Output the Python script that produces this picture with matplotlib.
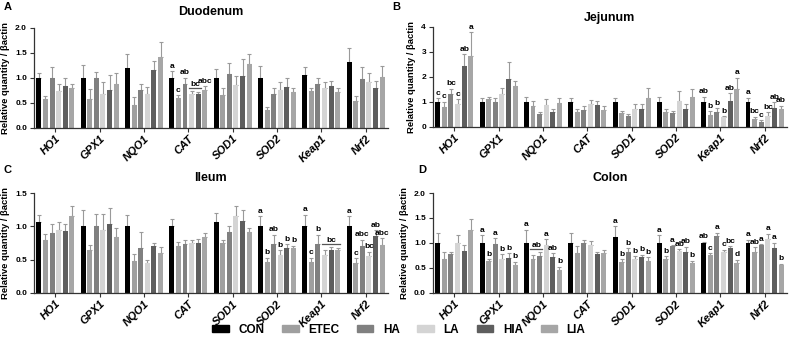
import matplotlib
matplotlib.use("Agg")
import matplotlib.pyplot as plt
import numpy as np

plt.rcParams["font.family"] = ["Liberation Sans", "DejaVu Sans"]

# datos
genes = ["HO1", "GPX1", "NQO1", "CAT", "SOD1", "SOD2", "Keap1", "Nrf2"]
grupos = ["CON", "ETEC", "HA", "LA", "HIA", "LIA"]
colores = ["#000000", "#9f9f9f", "#808080", "#d4d4d4", "#5e5e5e", "#a6a6a6"]

# medias (fila = gen, columna = grupo) y extremo superior de la barra de error
duo_media = [[1.00, 0.58, 1.00, 0.73, 0.84, 0.80],
             [1.00, 0.57, 1.00, 0.67, 0.75, 0.87],
             [1.19, 0.46, 0.76, 0.67, 1.15, 1.41],
             [1.00, 0.59, 0.87, 0.68, 0.68, 0.75],
             [1.00, 0.66, 1.07, 0.85, 1.03, 1.28],
             [1.00, 0.35, 0.68, 0.76, 0.82, 0.71],
             [1.06, 0.74, 0.87, 0.79, 0.83, 0.71],
             [1.32, 0.53, 0.97, 0.91, 0.79, 1.02]]
duo_sup = [[1.10, 0.64, 1.22, 0.87, 0.99, 0.87],
           [1.25, 0.78, 1.12, 0.91, 1.05, 1.09],
           [1.47, 0.61, 0.87, 0.82, 1.34, 1.71],
           [1.13, 0.65, 1.00, 0.73, 0.72, 0.83],
           [1.17, 0.79, 1.29, 1.03, 1.37, 1.47],
           [1.23, 0.41, 0.79, 0.92, 0.99, 0.79],
           [1.21, 0.79, 0.99, 0.91, 0.93, 0.79],
           [1.59, 0.63, 1.21, 1.10, 0.93, 1.23]]

jej_media = [[1.00, 0.80, 1.32, 0.93, 2.42, 2.82],
             [1.00, 1.10, 0.98, 1.30, 1.93, 1.62],
             [1.00, 0.83, 0.50, 0.88, 0.60, 0.95],
             [1.00, 0.58, 0.67, 0.90, 0.86, 0.66],
             [1.00, 0.55, 0.43, 0.70, 0.70, 1.17],
             [1.00, 0.60, 0.56, 1.05, 0.73, 1.20],
             [1.00, 0.48, 0.58, 0.38, 1.03, 1.53],
             [1.00, 0.33, 0.20, 0.43, 0.75, 0.70]]
jej_sup = [[1.15, 1.00, 1.53, 1.10, 2.90, 3.78],
           [1.15, 1.20, 1.15, 1.57, 2.60, 1.85],
           [1.20, 1.05, 0.58, 1.13, 0.73, 1.17],
           [1.17, 0.73, 0.82, 1.08, 1.05, 0.83],
           [1.17, 0.65, 0.52, 0.90, 0.93, 1.57],
           [1.20, 0.70, 0.65, 1.44, 0.93, 1.52],
           [1.20, 0.62, 0.75, 0.42, 1.35, 1.97],
           [1.17, 0.40, 0.27, 0.58, 0.98, 0.85]]

ile_media = [[1.07, 0.79, 0.90, 0.94, 0.93, 1.15],
             [1.00, 0.65, 1.00, 0.95, 1.03, 0.84],
             [1.00, 0.48, 0.68, 0.45, 0.70, 0.60],
             [1.00, 0.70, 0.73, 0.75, 0.75, 0.84],
             [1.06, 0.75, 0.92, 1.16, 1.08, 0.91],
             [1.00, 0.46, 0.73, 0.57, 0.67, 0.68],
             [1.00, 0.46, 0.73, 0.57, 0.65, 0.65],
             [1.00, 0.45, 0.71, 0.56, 0.85, 0.72]]
ile_sup = [[1.17, 0.89, 1.03, 1.06, 1.03, 1.31],
           [1.24, 0.72, 1.19, 1.18, 1.28, 0.97],
           [1.17, 0.58, 0.92, 0.49, 0.75, 0.69],
           [1.11, 0.77, 0.79, 0.79, 0.81, 0.90],
           [1.20, 0.80, 1.01, 1.31, 1.25, 0.97],
           [1.15, 0.53, 0.87, 0.64, 0.73, 0.71],
           [1.17, 0.53, 0.87, 0.64, 0.69, 0.68],
           [1.15, 0.52, 0.80, 0.62, 0.94, 0.82]]

col_media = [[1.00, 0.67, 0.78, 1.00, 0.84, 1.26],
             [1.00, 0.64, 0.97, 0.68, 0.70, 0.56],
             [1.00, 0.68, 0.74, 0.96, 0.71, 0.46],
             [1.00, 0.79, 1.00, 0.95, 0.77, 0.79],
             [1.11, 0.61, 0.81, 0.68, 0.72, 0.63],
             [1.00, 0.68, 0.93, 0.83, 0.82, 0.60],
             [1.00, 0.76, 1.13, 0.81, 0.89, 0.60],
             [1.00, 0.81, 0.95, 1.07, 0.90, 0.55]]
col_sup = [[1.19, 0.81, 0.81, 1.16, 0.96, 1.48],
           [1.15, 0.67, 1.09, 0.77, 0.79, 0.62],
           [1.26, 0.76, 0.81, 1.07, 0.79, 0.52],
           [1.20, 0.94, 1.06, 1.04, 0.81, 0.86],
           [1.33, 0.67, 0.89, 0.73, 0.76, 0.71],
           [1.15, 0.73, 0.95, 0.87, 0.92, 0.64],
           [1.02, 0.79, 1.20, 0.86, 0.93, 0.66],
           [1.06, 0.91, 0.97, 1.18, 1.00, 0.58]]

# letras de significancia {gen: [letras por grupo]}
duo_letras = {"CAT": ["a", "c", "ab", "", "", "abc"]}
jej_letras = {"HO1": ["c", "c", "bc", "c", "ab", "a"],
              "Keap1": ["ab", "b", "b", "b", "ab", "a"],
              "Nrf2": ["a", "bc", "c", "bc", "ab", "ab"]}
ile_letras = {"SOD2": ["a", "b", "ab", "b", "b", "b"],
              "Keap1": ["a", "c", "b", "", "", ""],
              "Nrf2": ["a", "c", "abc", "bc", "ab", "abc"]}
col_letras = {"GPX1": ["a", "b", "a", "b", "b", "b"],
              "NQO1": ["a", "", "", "a", "ab", "b"],
              "SOD1": ["a", "b", "b", "b", "b", "b"],
              "SOD2": ["a", "b", "a", "ab", "ab", "b"],
              "Keap1": ["ab", "c", "a", "c", "bc", "d"],
              "Nrf2": ["a", "ab", "a", "a", "a", "b"]}
# letras subrayadas sobre varios grupos: (gen, primer grupo, ultimo grupo, letra)
duo_linea = [("CAT", 3, 4, "bc")]
jej_linea = []
ile_linea = [("Keap1", 3, 5, "bc")]
col_linea = [("NQO1", 1, 2, "ab")]

paso = 6.7
ancho = 0.75

fig = plt.figure(figsize=(7.9, 3.41), dpi=100)

def panel(pos, media, sup, letras, lineas, titulo, pad_tit, ymax, ypaso):
    ax = fig.add_axes(pos)
    media = np.array(media)
    sup = np.array(sup)
    rango = ymax * 0.015
    for j in range(6):
        x = np.arange(8) * paso + j
        ax.bar(x, media[:, j], width=ancho, color=colores[j], zorder=2)
        ax.errorbar(x, media[:, j], yerr=[np.zeros(8), sup[:, j] - media[:, j]],
                    fmt="none", ecolor="#9a9a9a", elinewidth=0.8, capsize=1.3,
                    capthick=0.8, zorder=1)
    for gen, lets in letras.items():
        g = genes.index(gen)
        for j, t in enumerate(lets):
            if t:
                ax.text(g * paso + j, sup[g, j] + rango, t, ha="center", va="bottom",
                        fontsize=6, fontweight="bold")
    for gen, j0, j1, t in lineas:
        g = genes.index(gen)
        y = sup[g, j0:j1 + 1].max() + rango * 2
        ax.plot([g * paso + j0 - 0.4, g * paso + j1 + 0.4], [y, y], color="#555555", lw=0.9)
        ax.text(g * paso + (j0 + j1) / 2, y, t, ha="center", va="bottom",
                fontsize=6, fontweight="bold")
    ax.set_xlim(-0.73, 7 * paso + 5 + 0.87)
    ax.set_ylim(0, ymax)
    ax.set_yticks(np.arange(0, ymax + 0.001, ypaso))
    if ypaso < 1:
        ax.set_yticklabels(["%.1f" % v for v in np.arange(0, ymax + 0.001, ypaso)])
    ax.set_xticks(np.arange(8) * paso + 2.5)
    ax.set_xticklabels(genes, rotation=45, ha="right", rotation_mode="anchor",
                       fontsize=8, fontweight="bold", fontstyle="italic")
    for s in ["top", "right"]:
        ax.spines[s].set_visible(False)
    for s in ["left", "bottom"]:
        ax.spines[s].set_color("#333333")
        ax.spines[s].set_linewidth(0.9)
    ax.tick_params(axis="y", labelsize=6, length=3, color="#333333", pad=2)
    ax.tick_params(axis="x", length=3, color="#333333", pad=1)
    for lab in ax.get_yticklabels():
        lab.set_fontweight("bold")
    ax.set_ylabel("Relative quantity / βactin", fontsize=6.8, fontweight="bold", labelpad=4)
    ax.set_title(titulo, fontsize=9, fontweight="bold", pad=pad_tit)
    return ax

panel([0.043, 0.625, 0.448, 0.293], duo_media, duo_sup, duo_letras, duo_linea,
      "Duodenum", 9, 2.0, 0.5)
panel([0.548, 0.628, 0.448, 0.293], jej_media, jej_sup, jej_letras, jej_linea,
      "Jejunum", 4, 4, 1)
panel([0.043, 0.141, 0.448, 0.293], ile_media, ile_sup, ile_letras, ile_linea,
      "Ileum", 9, 1.5, 0.5)
panel([0.548, 0.141, 0.448, 0.293], col_media, col_sup, col_letras, col_linea,
      "Colon", 9, 2.0, 0.5)

for txt, x, y in [("A", 0.005, 0.995), ("B", 0.497, 0.995),
                  ("C", 0.005, 0.515), ("D", 0.530, 0.515)]:
    fig.text(x, y, txt, fontsize=8, fontweight="bold", va="top")

handles = [plt.Rectangle((0, 0), 1, 1, color=c) for c in colores]
leg = fig.legend(handles, grupos, loc="center", bbox_to_anchor=(0.505, 0.033), ncol=6,
                 frameon=False, handlelength=1.4, handleheight=0.6, columnspacing=1.5,
                 handletextpad=0.8, prop={"weight": "bold", "size": 8.5})

fig.savefig("out.png", dpi=100)
